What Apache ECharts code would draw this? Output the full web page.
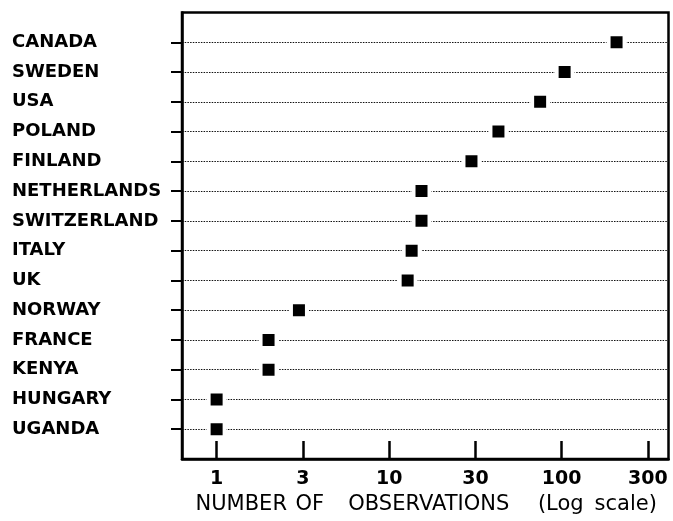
<!DOCTYPE html>
<html>
<head>
<meta charset="utf-8">
<script src="https://cdn.jsdelivr.net/npm/echarts@6/dist/echarts.min.js"></script>
<style>
  html, body { margin: 0; padding: 0; background: #fff; }
  #chart { width: 673px; height: 521px; }
</style>
</head>
<body>
<div id="chart"></div>
<script>
// Countries, top to bottom as shown
const countries = ['CANADA', 'SWEDEN', 'USA', 'POLAND', 'FINLAND', 'NETHERLANDS', 'SWITZERLAND',
  'ITALY', 'UK', 'NORWAY', 'FRANCE', 'KENYA', 'HUNGARY', 'UGANDA'];
// Number of observations
const observations = [208, 104, 75, 43, 30, 15.4, 15.4, 13.5, 12.8, 3, 2, 2, 1, 1];
// Tick labels at half-decade steps
const tickLabels = ['1', '3', '10', '30', '100', '300'];

const BASE = Math.sqrt(10);
// category axis (bottom to top) with empty padding slots at both ends
const yCats = [''].concat(countries.slice().reverse(), ['']);
const points = countries.map((c, i) => [observations[i], c]);

const nameFont = { fontSize: 21, fontFamily: 'DejaVu Sans', color: '#000' };

const chart = echarts.init(document.getElementById('chart'), null, { renderer: 'canvas' });
chart.setOption({
  backgroundColor: '#fff',
  animation: false,
  grid: {
    left: 182, right: 4.5, top: 12.5, bottom: 62,
    show: true, borderColor: '#000', borderWidth: 2.5, backgroundColor: 'transparent'
  },
  xAxis: {
    type: 'log',
    logBase: BASE,
    min: 0.63,
    max: 416,
    splitNumber: 5,
    axisLine: { show: true, lineStyle: { color: '#000', width: 2.5 } },
    axisTick: { show: true, inside: true, length: 18, lineStyle: { color: '#000', width: 2.5 } },
    splitLine: { show: false },
    minorTick: { show: false },
    axisLabel: {
      margin: 11,
      color: '#000',
      fontFamily: 'DejaVu Sans',
      fontWeight: 'bold',
      fontSize: 19,
      showMinLabel: false,
      showMaxLabel: false,
      formatter: function (v) {
        const k = Math.log(v) / Math.log(BASE);
        const r = Math.round(k);
        if (Math.abs(k - r) < 0.01 && r >= 0 && r < tickLabels.length) return tickLabels[r];
        return '';
      }
    },
    name: '{a|NUMBER}{b|OF}{c|OBSERVATIONS}{d|(Log}{e|scale)}',
    nameLocation: 'middle',
    nameGap: 27,
    nameTextStyle: {
      color: '#000',
      fontFamily: 'DejaVu Sans',
      fontSize: 21,
      rich: {
        a: Object.assign({ width: 99 }, nameFont),
        b: Object.assign({ width: 38 }, nameFont),
        c: Object.assign({ width: 200 }, nameFont),
        d: Object.assign({ width: 64 }, nameFont),
        e: Object.assign({ width: 66 }, nameFont)
      }
    }
  },
  yAxis: {
    type: 'category',
    data: yCats,
    boundaryGap: false,
    axisLine: { show: true, lineStyle: { color: '#000', width: 2.5 } },
    axisTick: {
      show: true, inside: false, length: 11,
      interval: function (i, v) { return v !== ''; },
      lineStyle: { color: '#000', width: 2 }
    },
    axisLabel: {
      interval: 0,
      margin: 170,
      align: 'left',
      color: '#000',
      fontFamily: 'DejaVu Sans',
      fontWeight: 'bold',
      fontSize: 18
    },
    splitLine: {
      show: true,
      interval: function (i, v) { return v !== ''; },
      lineStyle: { color: '#111', width: 1.2, type: [1.5, 1.2] }
    }
  },
  series: [{
    type: 'scatter',
    data: points,
    symbol: 'rect',
    symbolSize: 16,
    itemStyle: { color: '#000', borderColor: '#fff', borderWidth: 4, opacity: 1 },
    z: 5
  }]
});
</script>
</body>
</html>
